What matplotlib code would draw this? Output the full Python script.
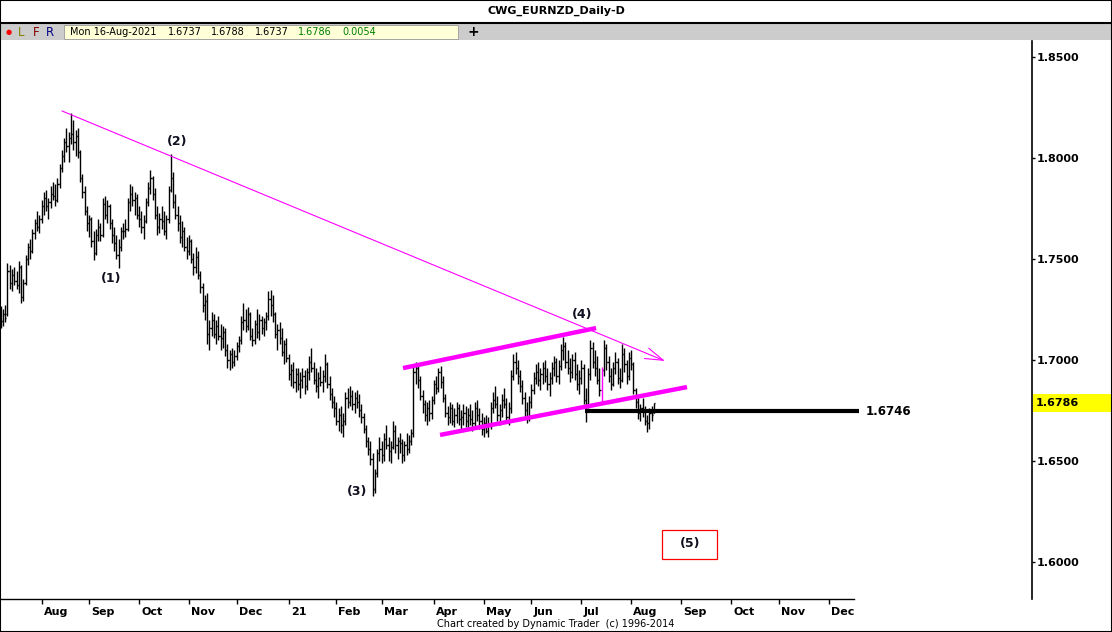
import numpy as np
import pandas as pd
import matplotlib
matplotlib.use('Agg')
import matplotlib.pyplot as plt
import matplotlib.transforms as mtrans
from matplotlib.collections import LineCollection
from matplotlib.lines import Line2D
from matplotlib.patches import Rectangle

# daily EUR/NZD bars, 2020-07-08 .. 2021-08-16
start_date = '2020-07-08'
end_date = '2021-08-16'

bar_high = [
    1.7265, 1.7250, 1.7270, 1.7480, 1.7470, 1.7450, 1.7460, 1.7440, 1.7490, 1.7470,
    1.7400, 1.7520, 1.7580, 1.7600, 1.7650, 1.7700, 1.7740, 1.7720, 1.7790, 1.7830,
    1.7840, 1.7800, 1.7860, 1.7880, 1.7870, 1.7900, 1.7970, 1.8040, 1.8100, 1.8150,
    1.8130, 1.8225, 1.8190, 1.8140, 1.8150, 1.8040, 1.7920, 1.7860, 1.7760, 1.7720,
    1.7710, 1.7640, 1.7650, 1.7700, 1.7680, 1.7800, 1.7810, 1.7790, 1.7770, 1.7700,
    1.7660, 1.7620, 1.7600, 1.7660, 1.7680, 1.7700, 1.7800, 1.7870, 1.7860, 1.7830,
    1.7820, 1.7760, 1.7740, 1.7720, 1.7800, 1.7880, 1.7940, 1.7910, 1.7850, 1.7760,
    1.7730, 1.7760, 1.7740, 1.7720, 1.7860, 1.8020, 1.7930, 1.7820, 1.7760, 1.7720,
    1.7690, 1.7660, 1.7610, 1.7620, 1.7600, 1.7530, 1.7560, 1.7540, 1.7440, 1.7380,
    1.7320, 1.7330, 1.7200, 1.7240, 1.7230, 1.7200, 1.7220, 1.7180, 1.7170, 1.7160,
    1.7080, 1.7050, 1.7060, 1.7050, 1.7090, 1.7120, 1.7220, 1.7280, 1.7250, 1.7260,
    1.7240, 1.7160, 1.7200, 1.7250, 1.7230, 1.7220, 1.7210, 1.7240, 1.7340, 1.7345,
    1.7320, 1.7240, 1.7180, 1.7190, 1.7160, 1.7100, 1.7110, 1.7030, 1.6980, 1.6990,
    1.6960, 1.6960, 1.6940, 1.6960, 1.6950, 1.6960, 1.7020, 1.7060, 1.6990, 1.6960,
    1.6940, 1.6970, 1.6950, 1.7030, 1.6990, 1.6920, 1.6860, 1.6820, 1.6790, 1.6760,
    1.6770, 1.6740, 1.6840, 1.6860, 1.6870, 1.6850, 1.6840, 1.6850, 1.6830, 1.6780,
    1.6740, 1.6680, 1.6620, 1.6600, 1.6540, 1.6460, 1.6560, 1.6620, 1.6600, 1.6640,
    1.6680, 1.6620, 1.6600, 1.6700, 1.6680, 1.6620, 1.6640, 1.6610, 1.6600, 1.6640,
    1.6630, 1.6660, 1.6970, 1.6990, 1.6980, 1.6920, 1.6850, 1.6800, 1.6790, 1.6800,
    1.6820, 1.6900, 1.6920, 1.6960, 1.6970, 1.6920, 1.6830, 1.6770, 1.6790, 1.6780,
    1.6760, 1.6790, 1.6780, 1.6750, 1.6780, 1.6770, 1.6760, 1.6780, 1.6750, 1.6790,
    1.6800, 1.6760, 1.6740, 1.6720, 1.6730, 1.6720, 1.6790, 1.6840, 1.6870, 1.6820,
    1.6780, 1.6830, 1.6860, 1.6810, 1.6790, 1.6950, 1.7030, 1.7040, 1.7000, 1.6950,
    1.6900, 1.6840, 1.6790, 1.6820, 1.6880, 1.6940, 1.6980, 1.6990, 1.6960, 1.6990,
    1.7000, 1.6960, 1.6940, 1.6990, 1.7020, 1.7010, 1.7000, 1.7080, 1.7114, 1.7090,
    1.7050, 1.7010, 1.7030, 1.7040, 1.6980, 1.6950, 1.7000, 1.6980, 1.6860, 1.6960,
    1.7100, 1.7090, 1.7050, 1.7020, 1.6960, 1.6965, 1.7100, 1.7080, 1.7020, 1.6960,
    1.6990, 1.7040, 1.7010, 1.6960, 1.7080, 1.7060, 1.7000, 1.7040, 1.7050, 1.6990,
    1.6860, 1.6820, 1.6780, 1.6810, 1.6770, 1.6730, 1.6760, 1.6770, 1.6788,
]

bar_low = [
    1.7160, 1.7170, 1.7190, 1.7220, 1.7350, 1.7340, 1.7370, 1.7350, 1.7330, 1.7280,
    1.7290, 1.7370, 1.7470, 1.7500, 1.7530, 1.7600, 1.7640, 1.7630, 1.7680, 1.7720,
    1.7740, 1.7700, 1.7750, 1.7790, 1.7760, 1.7780, 1.7850, 1.7930, 1.7980, 1.8030,
    1.7980, 1.8070, 1.8040, 1.8010, 1.8000, 1.7880, 1.7800, 1.7720, 1.7640, 1.7610,
    1.7560, 1.7495, 1.7520, 1.7590, 1.7590, 1.7610, 1.7700, 1.7680, 1.7650, 1.7580,
    1.7540, 1.7500, 1.7456, 1.7540, 1.7600, 1.7610, 1.7640, 1.7740, 1.7760, 1.7720,
    1.7700, 1.7660, 1.7630, 1.7600, 1.7680, 1.7760, 1.7820, 1.7790, 1.7700, 1.7620,
    1.7630, 1.7650, 1.7620, 1.7600, 1.7680, 1.7830, 1.7750, 1.7700, 1.7640, 1.7580,
    1.7560, 1.7540, 1.7500, 1.7520, 1.7480, 1.7420, 1.7430, 1.7400, 1.7330, 1.7240,
    1.7200, 1.7080, 1.7050, 1.7120, 1.7110, 1.7080, 1.7100, 1.7050, 1.7060, 1.7020,
    1.6960, 1.6950, 1.6960, 1.6970, 1.7000, 1.7040, 1.7080, 1.7150, 1.7140, 1.7150,
    1.7100, 1.7070, 1.7080, 1.7110, 1.7100, 1.7130, 1.7120, 1.7150, 1.7200, 1.7220,
    1.7190, 1.7110, 1.7050, 1.7080, 1.7020, 1.6980, 1.6990, 1.6900, 1.6870, 1.6860,
    1.6840, 1.6850, 1.6810, 1.6860, 1.6830, 1.6850, 1.6900, 1.6940, 1.6880, 1.6840,
    1.6810, 1.6870, 1.6840, 1.6890, 1.6860, 1.6800, 1.6760, 1.6720, 1.6680, 1.6650,
    1.6640, 1.6620, 1.6680, 1.6760, 1.6770, 1.6750, 1.6740, 1.6760, 1.6720, 1.6690,
    1.6640, 1.6570, 1.6530, 1.6480, 1.6327, 1.6340, 1.6420, 1.6500, 1.6490, 1.6500,
    1.6560, 1.6500, 1.6490, 1.6560, 1.6540, 1.6510, 1.6540, 1.6490, 1.6500, 1.6530,
    1.6540, 1.6580, 1.6620, 1.6880, 1.6860, 1.6800, 1.6740, 1.6700, 1.6680, 1.6700,
    1.6710, 1.6780, 1.6830, 1.6840, 1.6860, 1.6790, 1.6720, 1.6680, 1.6690, 1.6680,
    1.6670, 1.6690, 1.6680, 1.6660, 1.6680, 1.6670, 1.6660, 1.6680, 1.6650, 1.6670,
    1.6700, 1.6660, 1.6630, 1.6620, 1.6640, 1.6619, 1.6660, 1.6740, 1.6760, 1.6700,
    1.6680, 1.6720, 1.6760, 1.6700, 1.6680, 1.6740, 1.6900, 1.6930, 1.6880, 1.6840,
    1.6780, 1.6720, 1.6690, 1.6700, 1.6760, 1.6830, 1.6880, 1.6870, 1.6850, 1.6880,
    1.6890, 1.6850, 1.6820, 1.6880, 1.6920, 1.6890, 1.6880, 1.6950, 1.7000, 1.6960,
    1.6930, 1.6890, 1.6910, 1.6900, 1.6850, 1.6830, 1.6880, 1.6780, 1.6693, 1.6760,
    1.6900, 1.6960, 1.6920, 1.6880, 1.6820, 1.6792, 1.6920, 1.6950, 1.6890, 1.6850,
    1.6870, 1.6930, 1.6880, 1.6860, 1.6890, 1.6940, 1.6880, 1.6900, 1.6950, 1.6830,
    1.6760, 1.6710, 1.6700, 1.6720, 1.6680, 1.6644, 1.6660, 1.6700, 1.6737,
]

bar_close = [
    1.7195, 1.7230, 1.7210, 1.7440, 1.7380, 1.7420, 1.7390, 1.7370, 1.7460, 1.7310,
    1.7380, 1.7500, 1.7560, 1.7540, 1.7630, 1.7680, 1.7660, 1.7700, 1.7760, 1.7800,
    1.7760, 1.7780, 1.7820, 1.7810, 1.7790, 1.7870, 1.7950, 1.8010, 1.8080, 1.8060,
    1.8100, 1.8120, 1.8080, 1.8110, 1.8030, 1.7900, 1.7830, 1.7740, 1.7680, 1.7700,
    1.7590, 1.7530, 1.7620, 1.7660, 1.7620, 1.7770, 1.7720, 1.7760, 1.7680, 1.7620,
    1.7580, 1.7520, 1.7560, 1.7640, 1.7640, 1.7650, 1.7780, 1.7820, 1.7790, 1.7800,
    1.7720, 1.7700, 1.7660, 1.7690, 1.7780, 1.7850, 1.7900, 1.7820, 1.7720, 1.7660,
    1.7700, 1.7690, 1.7640, 1.7700, 1.7840, 1.7900, 1.7780, 1.7720, 1.7680, 1.7610,
    1.7640, 1.7560, 1.7540, 1.7590, 1.7500, 1.7460, 1.7510, 1.7420, 1.7360, 1.7270,
    1.7290, 1.7130, 1.7160, 1.7200, 1.7130, 1.7170, 1.7120, 1.7110, 1.7140, 1.7050,
    1.7000, 1.7030, 1.6990, 1.7020, 1.7070, 1.7100, 1.7190, 1.7200, 1.7170, 1.7230,
    1.7120, 1.7100, 1.7180, 1.7140, 1.7200, 1.7160, 1.7190, 1.7220, 1.7300, 1.7270,
    1.7230, 1.7130, 1.7150, 1.7110, 1.7040, 1.7080, 1.7010, 1.6930, 1.6950, 1.6890,
    1.6930, 1.6880, 1.6900, 1.6920, 1.6870, 1.6940, 1.6990, 1.6960, 1.6900, 1.6870,
    1.6910, 1.6890, 1.6920, 1.6980, 1.6880, 1.6830, 1.6790, 1.6760, 1.6700, 1.6730,
    1.6680, 1.6700, 1.6810, 1.6790, 1.6820, 1.6780, 1.6810, 1.6790, 1.6750, 1.6720,
    1.6660, 1.6600, 1.6560, 1.6510, 1.6360, 1.6440, 1.6540, 1.6560, 1.6530, 1.6610,
    1.6580, 1.6550, 1.6570, 1.6650, 1.6580, 1.6600, 1.6590, 1.6530, 1.6580, 1.6560,
    1.6600, 1.6640, 1.6940, 1.6960, 1.6900, 1.6820, 1.6780, 1.6730, 1.6760, 1.6740,
    1.6800, 1.6880, 1.6860, 1.6940, 1.6890, 1.6810, 1.6740, 1.6720, 1.6760, 1.6700,
    1.6730, 1.6760, 1.6710, 1.6720, 1.6740, 1.6700, 1.6730, 1.6710, 1.6690, 1.6760,
    1.6730, 1.6700, 1.6660, 1.6690, 1.6650, 1.6680, 1.6760, 1.6800, 1.6780, 1.6730,
    1.6750, 1.6800, 1.6780, 1.6720, 1.6760, 1.6920, 1.6990, 1.6960, 1.6920, 1.6870,
    1.6810, 1.6750, 1.6720, 1.6790, 1.6850, 1.6910, 1.6940, 1.6900, 1.6930, 1.6960,
    1.6920, 1.6880, 1.6910, 1.6960, 1.6990, 1.6920, 1.6970, 1.7050, 1.7070, 1.6990,
    1.6960, 1.6940, 1.7000, 1.6930, 1.6880, 1.6910, 1.6960, 1.6800, 1.6780, 1.6930,
    1.7060, 1.6990, 1.6960, 1.6900, 1.6850, 1.6950, 1.7060, 1.6990, 1.6920, 1.6880,
    1.6960, 1.6990, 1.6910, 1.6900, 1.7030, 1.6980, 1.6920, 1.7010, 1.6980, 1.6850,
    1.6790, 1.6740, 1.6760, 1.6750, 1.6700, 1.6690, 1.6740, 1.6730, 1.6786,
]

bar_open = [
    1.7230, 1.7195, 1.7230, 1.7230, 1.7440, 1.7380, 1.7420, 1.7390, 1.7370, 1.7460,
    1.7310, 1.7380, 1.7500, 1.7560, 1.7540, 1.7630, 1.7680, 1.7660, 1.7700, 1.7760,
    1.7800, 1.7760, 1.7780, 1.7820, 1.7810, 1.7790, 1.7870, 1.7950, 1.8010, 1.8080,
    1.8060, 1.8100, 1.8120, 1.8080, 1.8110, 1.8030, 1.7900, 1.7830, 1.7740, 1.7680,
    1.7700, 1.7590, 1.7530, 1.7620, 1.7660, 1.7620, 1.7770, 1.7720, 1.7760, 1.7680,
    1.7620, 1.7580, 1.7520, 1.7560, 1.7640, 1.7640, 1.7650, 1.7780, 1.7820, 1.7790,
    1.7800, 1.7720, 1.7700, 1.7660, 1.7690, 1.7780, 1.7850, 1.7900, 1.7820, 1.7720,
    1.7660, 1.7700, 1.7690, 1.7640, 1.7700, 1.7840, 1.7900, 1.7780, 1.7720, 1.7680,
    1.7610, 1.7640, 1.7560, 1.7540, 1.7590, 1.7500, 1.7460, 1.7510, 1.7420, 1.7360,
    1.7270, 1.7290, 1.7130, 1.7160, 1.7200, 1.7130, 1.7170, 1.7120, 1.7110, 1.7140,
    1.7050, 1.7000, 1.7030, 1.6990, 1.7020, 1.7070, 1.7100, 1.7190, 1.7200, 1.7170,
    1.7230, 1.7120, 1.7100, 1.7180, 1.7140, 1.7200, 1.7160, 1.7190, 1.7220, 1.7300,
    1.7270, 1.7230, 1.7130, 1.7150, 1.7110, 1.7040, 1.7080, 1.7010, 1.6930, 1.6950,
    1.6890, 1.6930, 1.6880, 1.6900, 1.6920, 1.6870, 1.6940, 1.6990, 1.6960, 1.6900,
    1.6870, 1.6910, 1.6890, 1.6920, 1.6980, 1.6880, 1.6830, 1.6790, 1.6760, 1.6700,
    1.6730, 1.6680, 1.6700, 1.6810, 1.6790, 1.6820, 1.6780, 1.6810, 1.6790, 1.6750,
    1.6720, 1.6660, 1.6600, 1.6560, 1.6510, 1.6360, 1.6440, 1.6540, 1.6560, 1.6530,
    1.6610, 1.6580, 1.6550, 1.6570, 1.6650, 1.6580, 1.6600, 1.6590, 1.6530, 1.6580,
    1.6560, 1.6600, 1.6640, 1.6940, 1.6960, 1.6900, 1.6820, 1.6780, 1.6730, 1.6760,
    1.6740, 1.6800, 1.6880, 1.6860, 1.6940, 1.6890, 1.6810, 1.6740, 1.6720, 1.6760,
    1.6700, 1.6730, 1.6760, 1.6710, 1.6720, 1.6740, 1.6700, 1.6730, 1.6710, 1.6690,
    1.6760, 1.6730, 1.6700, 1.6660, 1.6690, 1.6650, 1.6680, 1.6760, 1.6800, 1.6780,
    1.6730, 1.6750, 1.6800, 1.6780, 1.6720, 1.6760, 1.6920, 1.6990, 1.6960, 1.6920,
    1.6870, 1.6810, 1.6750, 1.6720, 1.6790, 1.6850, 1.6910, 1.6940, 1.6900, 1.6930,
    1.6960, 1.6920, 1.6880, 1.6910, 1.6960, 1.6990, 1.6920, 1.6970, 1.7050, 1.7070,
    1.6990, 1.6960, 1.6940, 1.7000, 1.6930, 1.6880, 1.6910, 1.6960, 1.6800, 1.6780,
    1.6930, 1.7060, 1.6990, 1.6960, 1.6900, 1.6850, 1.6950, 1.7060, 1.6990, 1.6920,
    1.6880, 1.6960, 1.6990, 1.6910, 1.6900, 1.7030, 1.6980, 1.6920, 1.7010, 1.6980,
    1.6850, 1.6790, 1.6740, 1.6760, 1.6750, 1.6700, 1.6690, 1.6740, 1.6737,
]

marked_bar = 265          # bar drawn in magenta on the original
last_bar_text = ['Mon 16-Aug-2021', '1.6737', '1.6788', '1.6737', '1.6786', '0.0054']
price_ticks = [1.60, 1.65, 1.70, 1.75, 1.80, 1.85]
support_level = 1.6746
last_close = 1.6786

W, H = 1112, 632
MAG = '#ff00ff'


def fx(px):
    return px / W


def fy(py):
    return 1 - py / H


hi = np.array(bar_high)
lo = np.array(bar_low)
cl = np.clip(bar_close, lo, hi)
op = np.clip(bar_open, lo, hi)
n = len(hi)
x = np.arange(n)

fig = plt.figure(figsize=(W / 100, H / 100), dpi=100)
fig.patch.set_facecolor('white')

# --- header -------------------------------------------------------------
fig.text(fx(556), fy(11), 'CWG_EURNZD_Daily-D', ha='center', va='center',
         fontsize=8, fontweight='bold')
fig.add_artist(Line2D([0, 1], [fy(22.5), fy(22.5)], color='black', lw=1.5))
fig.add_artist(Rectangle((0, fy(40)), 1, fy(24) - fy(40), transform=fig.transFigure,
                         facecolor='#cccccc', edgecolor='none'))
fig.add_artist(Rectangle((fx(64), fy(38.5)), fx(458) - fx(64), fy(25) - fy(38.5),
                         transform=fig.transFigure, facecolor='#ffffd8',
                         edgecolor='#999999', lw=0.6))
fig.text(fx(9), fy(32), '\u25CF', color='red', fontsize=5, ha='center', va='center')
for px, s, c in [(21, 'L', '#808000'), (36, 'F', '#800000'), (50, 'R', '#000080')]:
    fig.text(fx(px), fy(32), s, color=c, fontsize=8.5, ha='center', va='center')
tb_x = [70, 168, 211, 255, 298, 342]
tb_c = ['black', 'black', 'black', 'black', 'green', 'green']
for px, s, c in zip(tb_x, last_bar_text, tb_c):
    fig.text(fx(px), fy(32), s, color=c, fontsize=7, ha='left', va='center')
fig.text(fx(473), fy(31.5), '+', fontsize=10, fontweight='bold', ha='center', va='center')

# --- price pane ---------------------------------------------------------
ax = fig.add_axes([0, fy(599), 1032 / W, (599 - 41) / H])
ax.set_facecolor('white')
ax.set_xlim(-0.3, 454.7)
ax.set_ylim(1.58168, 1.85792)

segs = []
cols = []
for i in range(n):
    c = MAG if i == marked_bar else 'black'
    segs += [[(x[i], lo[i]), (x[i], hi[i])],
             [(x[i] - 0.5, op[i]), (x[i], op[i])],
             [(x[i], cl[i]), (x[i] + 0.5, cl[i])]]
    cols += [c, c, c]
ax.add_collection(LineCollection(segs, colors=cols, linewidths=1.0, capstyle='butt'))

# down trend line with open arrow head
ax.annotate('', xy=(292.9, 1.6995), xytext=(27.0, 1.8233),
            arrowprops=dict(arrowstyle='->,head_length=1.3,head_width=0.4',
                            color=MAG, lw=0.8, shrinkA=0, shrinkB=0))
# channel lines
ax.plot([177.4, 262.5], [1.6960, 1.7158], color=MAG, lw=3.2, solid_capstyle='butt')
ax.plot([193.7, 302.6], [1.6629, 1.6866], color=MAG, lw=3.2, solid_capstyle='butt')
# support level
ax.plot([257.6, 378.5], [support_level, support_level], color='black', lw=3,
        solid_capstyle='butt')
ax.text(381.5, support_level, f'{support_level:.4f}', ha='left', va='center',
        fontsize=8.5, fontweight='bold')

# wave labels
waves = [('(1)', 48.6, 1.7401), ('(2)', 77.7, 1.8084), ('(3)', 157.1, 1.6347),
         ('(4)', 256.3, 1.7223), ('(5)', 303.9, 1.6094)]
for s, wx, wy in waves:
    ax.text(wx, wy, s, ha='center', va='center', fontsize=9, fontweight='bold',
            color='#101020')
ax.add_patch(Rectangle((291.6, 1.6015), 24.2, 0.0143, fill=False,
                       edgecolor='red', lw=0.9))

# axes styling
for side in ['left', 'top']:
    ax.spines[side].set_visible(False)
ax.spines['right'].set_linewidth(1.2)
ax.spines['bottom'].set_linewidth(1.0)
ax.spines['bottom'].set_bounds(-0.3, 376.3)

ax.yaxis.tick_right()
ax.set_yticks(price_ticks)
ax.set_yticklabels([f'{v:.4f}' for v in price_ticks], fontsize=8, fontweight='bold')
ax.tick_params(axis='y', direction='out', length=2.5, width=1, pad=1)

dates = pd.bdate_range(start_date, '2021-12-31')
month_idx = []
month_lbl = []
for k in range(1, len(dates)):
    if dates[k].month != dates[k - 1].month:
        month_idx.append(k)
        month_lbl.append('21' if dates[k].month == 1 else dates[k].strftime('%b'))
ax.set_xticks(month_idx)
ax.tick_params(axis='x', direction='out', length=3.5, width=1, labelbottom=False)
tr = mtrans.blended_transform_factory(ax.transData, ax.transAxes)
for k, s in zip(month_idx, month_lbl):
    ax.text(k + 0.9, -13 / 558, s, transform=tr, ha='left', va='center',
            fontsize=8, fontweight='bold', clip_on=False)

# last price flag on the price axis
fig.add_artist(Rectangle((fx(1033), fy(412)), 1 - fx(1033), fy(394) - fy(412),
                         transform=fig.transFigure, facecolor='yellow', edgecolor='none'))
fig.text(fx(1036), fy(403), f'{last_close:.4f}', ha='left', va='center',
         fontsize=8, fontweight='bold')

# footer + frame
fig.text(fx(556), fy(624), 'Chart created by Dynamic Trader  (c) 1996-2014',
         ha='center', va='center', fontsize=7)
fig.add_artist(Rectangle((0, 0), 1, 1, transform=fig.transFigure, fill=False,
                         edgecolor='black', lw=1.5))

fig.savefig('out.png', dpi=100)
